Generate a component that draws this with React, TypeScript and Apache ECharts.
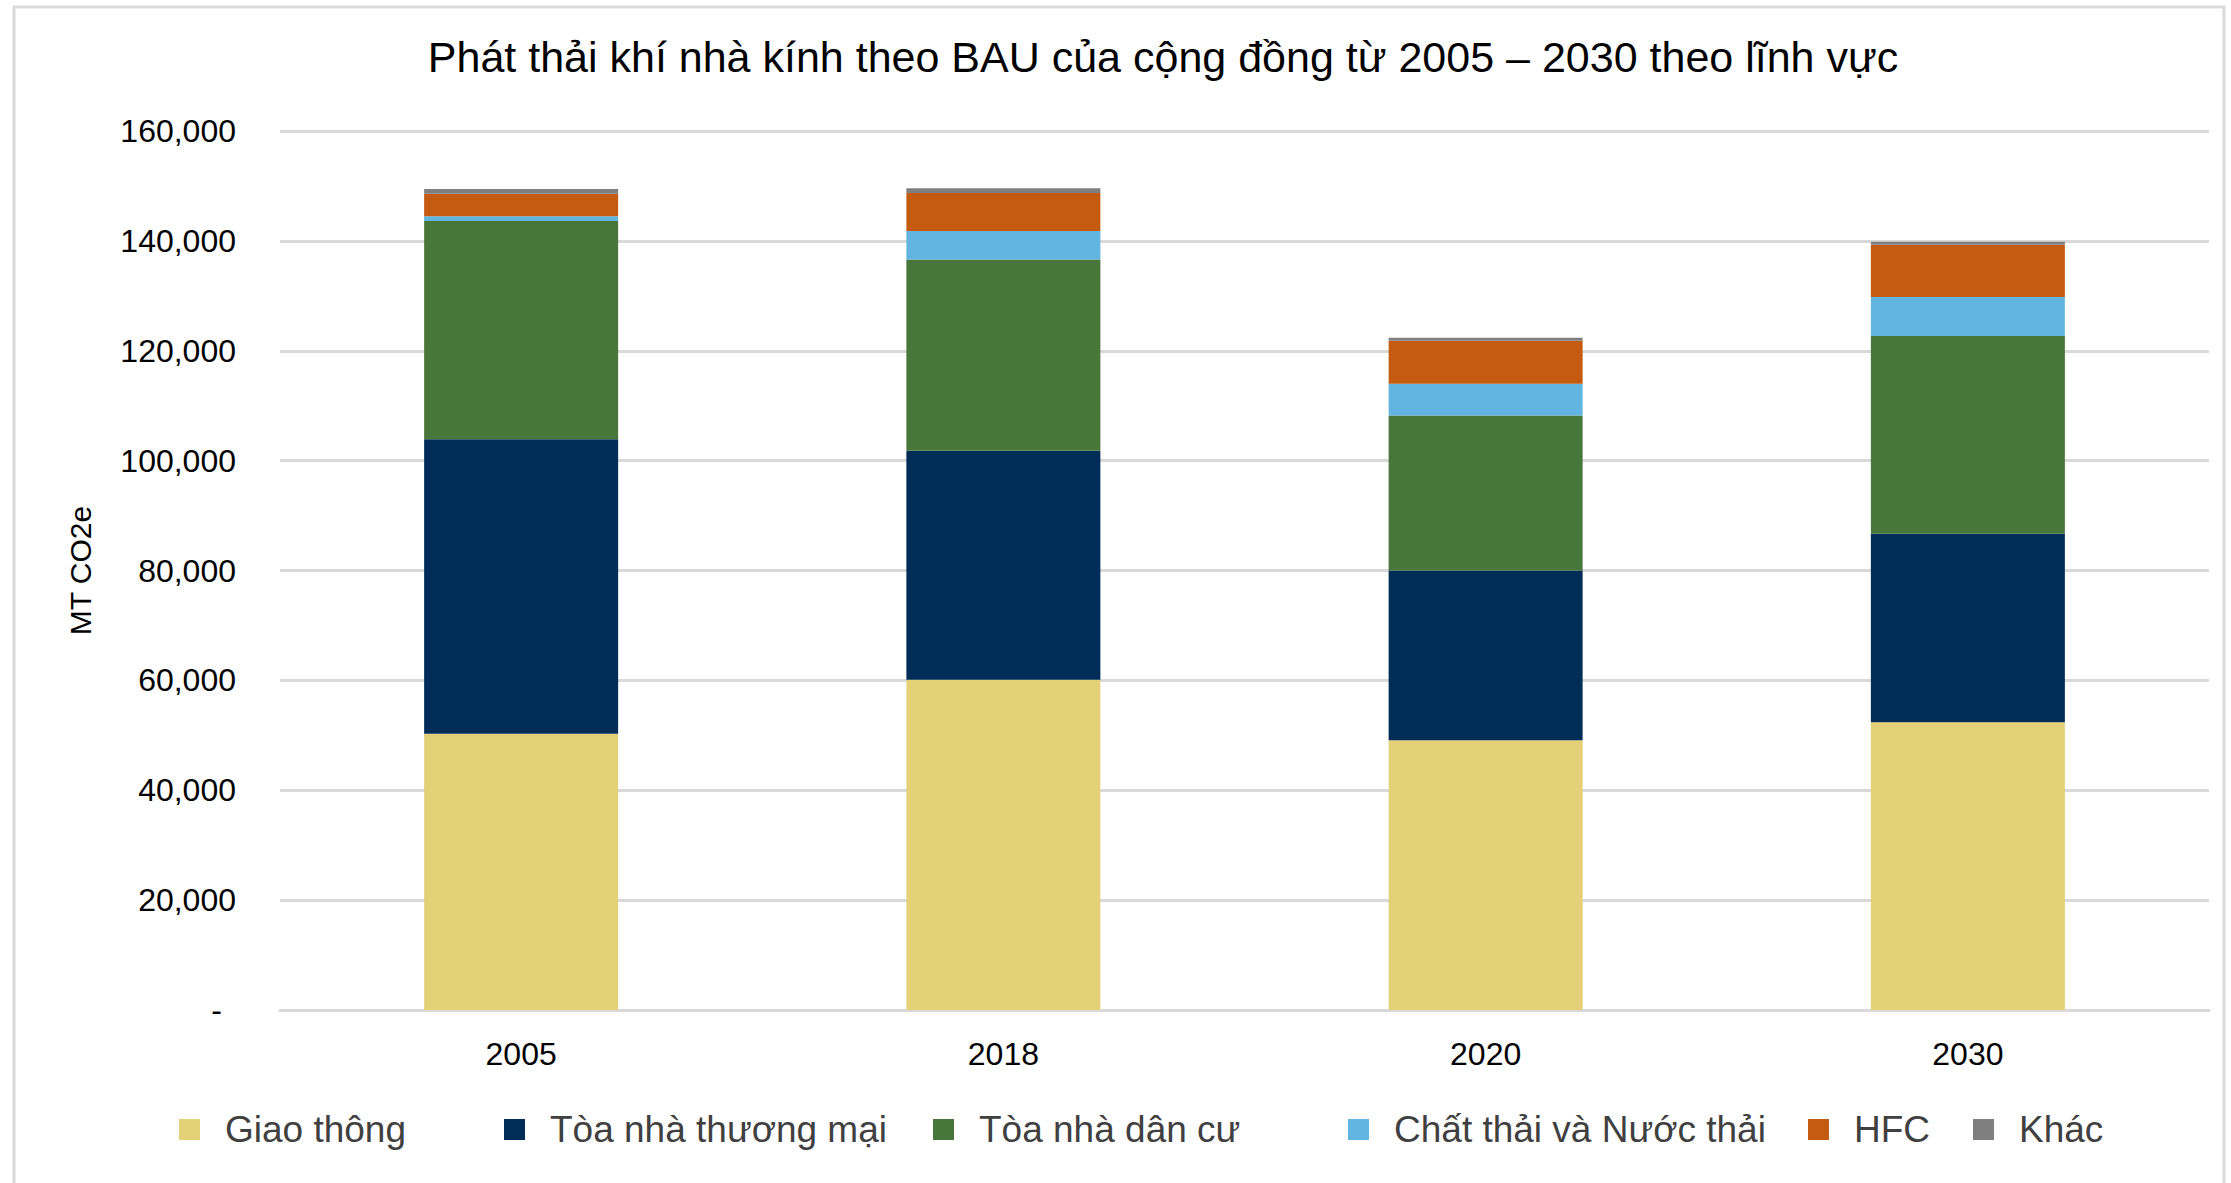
import React, { useEffect, useRef } from "react";
import * as echarts from "echarts";

const years = ["2005", "2018", "2020", "2030"];
const seriesNames = [
  "Giao thông",
  "Tòa nhà thương mại",
  "Tòa nhà dân cư",
  "Chất thải và Nước thải",
  "HFC",
  "Khác",
];
const giaoThong = [50300, 60100, 49100, 52400];
const thuongMai = [53600, 41700, 30900, 34300];
const danCu = [39700, 34800, 28200, 36000];
const chatThai = [900, 5200, 5800, 7100];
const hfc = [4100, 6900, 7800, 9500];
const khac = [850, 900, 550, 550];
const colors = ["#E4D077", "#002D57", "#48773C", "#62B5E0", "#C55A11", "#7F7F7F"];
const legendLeft = [174, 499, 928, 1343, 1803, 1968];
const title = "Phát thải khí nhà kính theo BAU của cộng đồng từ 2005 – 2030 theo lĩnh vực";
const yAxisName = "MT CO2e";

const FONT = "'Liberation Sans', Arial, sans-serif";

export default function App() {
  const ref = useRef<HTMLDivElement>(null);
  useEffect(() => {
    if (!ref.current) return;
    const chart = echarts.init(ref.current, undefined, { renderer: "svg" });
    const values = [giaoThong, thuongMai, danCu, chatThai, hfc, khac];
    const option: any = {
      animation: false,
      backgroundColor: "#ffffff",
      title: {
        text: title,
        left: 1158,
        textAlign: "center",
        top: 30,
        textStyle: { fontFamily: FONT, fontSize: 43, fontWeight: "normal", color: "#000000" },
      },
      graphic: [
        {
          type: "rect",
          shape: { x: 14, y: 7, width: 2210, height: 1190 },
          style: { fill: "none", stroke: "#D9D9D9", lineWidth: 3 },
          silent: true,
          z: -10,
        },
      ],
      legend: seriesNames.map((n, i) => ({
        data: [n],
        left: legendLeft[i],
        top: 1106,
        itemWidth: 21,
        itemHeight: 21,
        icon: "rect",
        selectedMode: false,
        textStyle: {
          fontFamily: FONT,
          fontSize: 37,
          color: "#404040",
          padding: [0, 0, 0, 20],
        },
      })),
      grid: { left: 280, right: 22, top: 131, bottom: 173, containLabel: false },
      xAxis: {
        type: "category",
        data: years,
        axisLine: { lineStyle: { color: "#D9D9D9", width: 3 } },
        axisTick: { show: false },
        axisLabel: { fontFamily: FONT, fontSize: 32, color: "#000000", margin: 28 },
      },
      yAxis: {
        type: "value",
        min: 0,
        max: 160000,
        interval: 20000,
        name: yAxisName,
        nameLocation: "middle",
        nameGap: 185,
        nameRotate: 90,
        nameTextStyle: { fontFamily: FONT, fontSize: 30, color: "#000000" },
        axisLine: { show: false },
        axisTick: { show: false },
        splitLine: { lineStyle: { color: "#D9D9D9", width: 3 } },
        axisLabel: {
          fontFamily: FONT,
          fontSize: 32,
          color: "#000000",
          margin: 44,
          formatter: (v: number) => (v === 0 ? "{d|-}" : v.toLocaleString("en-US")),
          rich: { d: { fontFamily: FONT, fontSize: 32, color: "#000000", padding: [0, 14, 0, 0] } },
        },
      },
      series: seriesNames.map((n, i) => ({
        name: n,
        type: "bar",
        stack: "total",
        data: values[i],
        barWidth: 194,
        itemStyle: { color: colors[i] },
      })),
    };
    chart.setOption(option);
    return () => chart.dispose();
  }, []);
  return (
    <div
      ref={ref}
      style={{ position: "fixed", left: 0, top: 0, width: 2231, height: 1183, background: "#fff" }}
    />
  );
}
